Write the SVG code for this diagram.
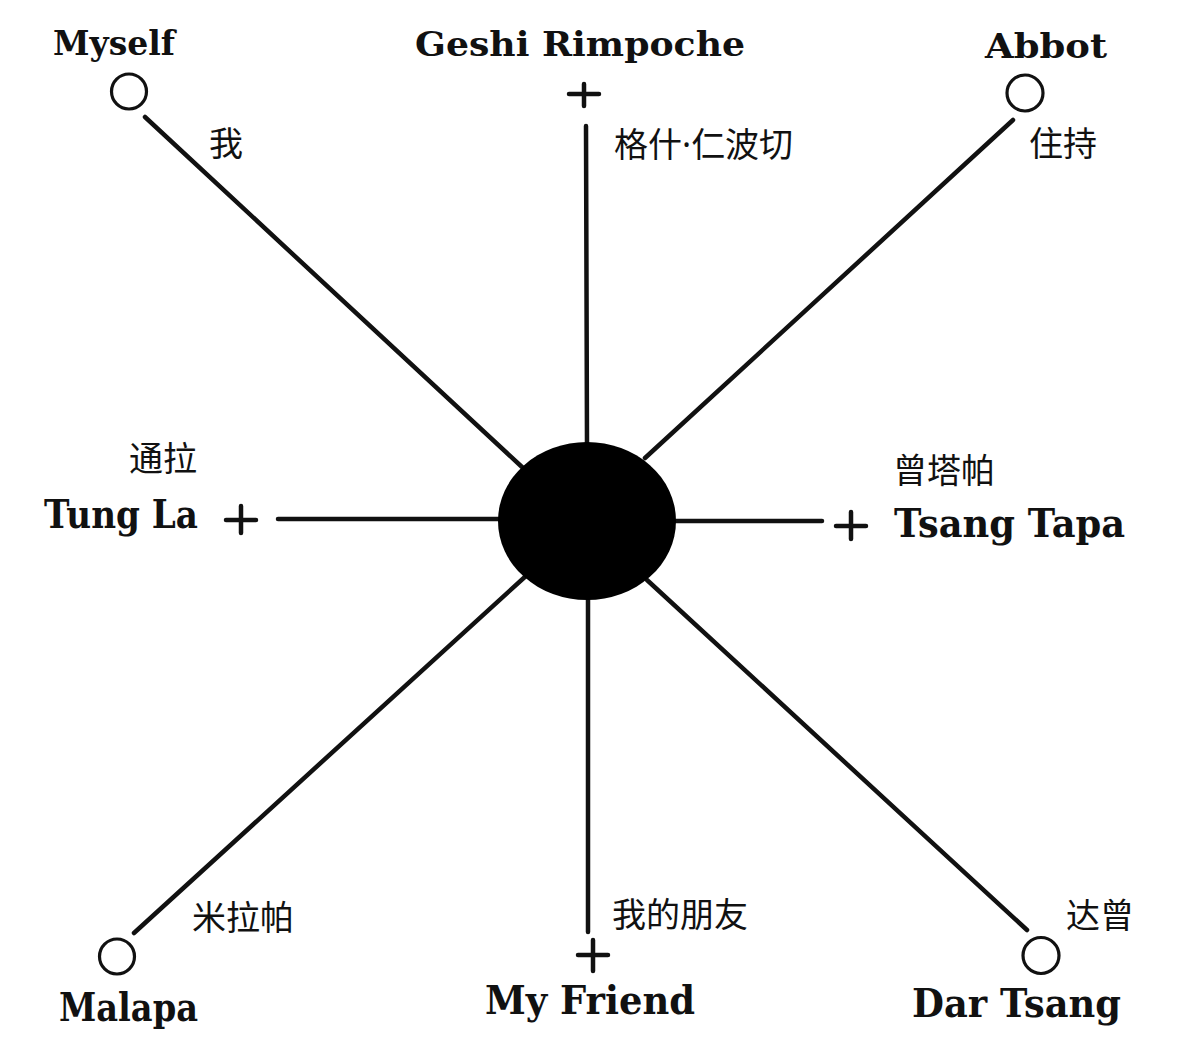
<svg xmlns="http://www.w3.org/2000/svg" width="1200" height="1058" viewBox="0 0 1200 1058">
<style>
.en{font-family:"DejaVu Serif","Liberation Serif",serif;font-weight:bold;fill:#111}
.top{font-size:34px}
.big{font-size:39px}
.zh{font-family:"Noto Sans CJK SC","Noto Sans",sans-serif;font-size:34px;fill:#111}
.dot{font-family:"Noto Sans","DejaVu Sans",sans-serif}
.ring{fill:#fff;stroke:#111;stroke-width:3.2}
.plus{stroke:#111;stroke-width:4.5;stroke-linecap:round;fill:none}
.edge{stroke:#111;stroke-width:4.5;stroke-linecap:round;fill:none}
</style>
<rect width="1200" height="1058" fill="#fff"/>
<g id="connectors">
<line class="edge" x1="145" y1="117" x2="522" y2="467"/>
<line class="edge" x1="586" y1="126" x2="587" y2="445"/>
<line class="edge" x1="1013" y1="120" x2="645" y2="458"/>
<line class="edge" x1="278" y1="519" x2="500" y2="519"/>
<line class="edge" x1="674" y1="521" x2="822" y2="521"/>
<line class="edge" x1="134" y1="933" x2="527" y2="575"/>
<line class="edge" x1="588" y1="597" x2="588" y2="932"/>
<line class="edge" x1="1027" y1="930" x2="647" y2="580"/>
</g>
<g id="center">
<ellipse cx="587" cy="521" rx="89" ry="79" fill="#000"/>
</g>
<g id="myself">
<text class="en top" x="53" y="55" textLength="122" lengthAdjust="spacingAndGlyphs">Myself</text>
<circle class="ring" cx="129" cy="91.5" r="17.5"/>
<text class="zh" x="209" y="156">我</text>
</g>
<g id="geshi-rimpoche">
<text class="en top" x="415" y="56" textLength="330" lengthAdjust="spacingAndGlyphs">Geshi Rimpoche</text>
<path class="plus" d="M569 94H599M584 84V106"/>
<text class="zh" x="614" y="157">格什<tspan class="dot">·</tspan>仁波切</text>
</g>
<g id="abbot">
<text class="en top" x="985" y="58" textLength="122" lengthAdjust="spacingAndGlyphs">Abbot</text>
<circle class="ring" cx="1025" cy="93" r="18"/>
<text class="zh" x="1029" y="156">住持</text>
</g>
<g id="tung-la">
<text class="zh" x="129" y="471">通拉</text>
<text class="en big" x="44" y="528" textLength="154" lengthAdjust="spacingAndGlyphs">Tung La</text>
<path class="plus" d="M226 520H256M241 506V533"/>
</g>
<g id="tsang-tapa">
<text class="zh" x="893" y="483">曾塔帕</text>
<path class="plus" d="M836 526H866M851 512V539"/>
<text class="en big" x="894" y="537" textLength="231" lengthAdjust="spacingAndGlyphs">Tsang Tapa</text>
</g>
<g id="malapa">
<text class="zh" x="192" y="930">米拉帕</text>
<circle class="ring" cx="117" cy="956.5" r="17.5"/>
<text class="en big" x="59" y="1021" textLength="139" lengthAdjust="spacingAndGlyphs">Malapa</text>
</g>
<g id="my-friend">
<text class="zh" x="612" y="927">我的朋友</text>
<path class="plus" d="M578 955H608M593 940V971"/>
<text class="en big" x="485" y="1014" textLength="210" lengthAdjust="spacingAndGlyphs">My Friend</text>
</g>
<g id="dar-tsang">
<text class="zh" x="1066" y="928">达曾</text>
<circle class="ring" cx="1041" cy="955.5" r="18"/>
<text class="en big" x="912" y="1017" textLength="209" lengthAdjust="spacingAndGlyphs">Dar Tsang</text>
</g>
</svg>
